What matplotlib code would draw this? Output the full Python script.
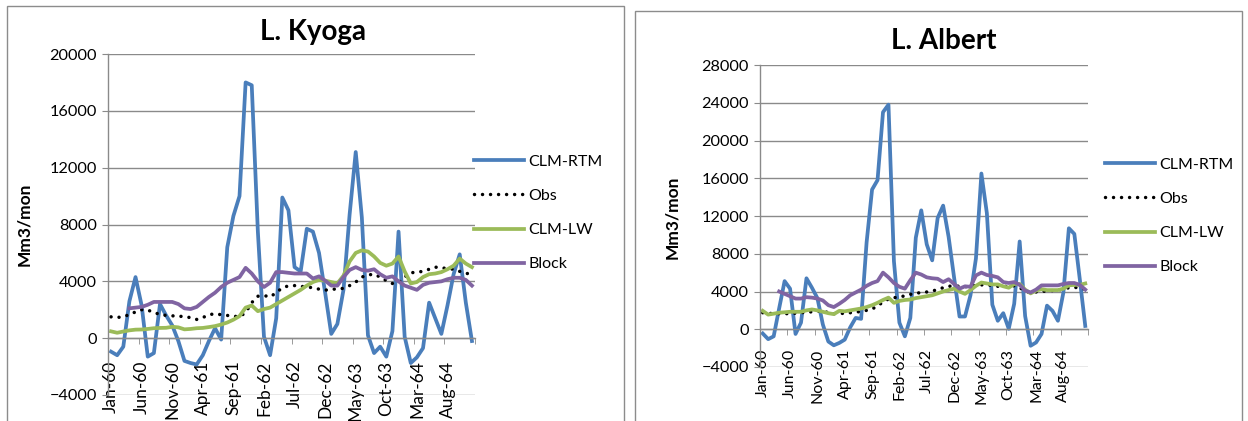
import numpy as np
import matplotlib
matplotlib.use("Agg")
import matplotlib.pyplot as plt
from matplotlib.patches import Rectangle

plt.rcParams['font.family'] = ['Lato', 'DejaVu Sans']

# month labels, Jan-60 .. Dec-64
months = []
_names = ["Jan", "Feb", "Mar", "Apr", "May", "Jun", "Jul", "Aug", "Sep", "Oct", "Nov", "Dec"]
for yr in range(60, 65):
    for mn in _names:
        months.append(f"{mn}-{yr}")

# ---- L. Kyoga ----
kyoga_rtm = [-950, -1200, -600, 2600, 4300, 2300, -1300, -1050, 2400, 1600,
             900, -200, -1600, -1750, -1850, -1200, -200, 700, -100, 6400,
             8600, 10000, 18000, 17800, 7500, 100, -1200, 1400, 9900, 9000,
             5000, 4700, 7700, 7500, 6000, 3200, 300, 1000, 3400, 8700,
             13100, 8500, 200, -1050, -600, -1300, 500, 7500, 100, -1750,
             -1350, -700, 2500, 1400, 300, 2300, 4500, 5900, 2500, -200]
kyoga_obs = [1500, 1450, 1520, 1650, 1850, 2000, 1980, 1800, 1680, 1600,
             1570, 1560, 1500, 1450, 1320, 1450, 1650, 1720, 1650, 1600,
             1550, 1500, 1800, 2500, 2950, 3000, 2900, 3200, 3550, 3680,
             3700, 3650, 3600, 3550, 3450, 3380, 3420, 3480, 3500, 3700,
             3950, 4300, 4450, 4500, 4300, 4050, 3850, 3900, 4300, 4600,
             4650, 4700, 4850, 5000, 4950, 4900, 4850, 4700, 4550, 4550]
kyoga_lw = [480, 380, 470, 550, 600, 610, 650, 700, 720, 730,
            800, 760, 620, 650, 700, 720, 780, 850, 960, 1100,
            1300, 1550, 2150, 2300, 1900, 2050, 2150, 2400, 2650, 2900,
            3150, 3400, 3700, 3950, 4100, 4050, 3950, 3850, 4400, 5400,
            6000, 6180, 6100, 5750, 5300, 5100, 5250, 5750, 4700, 3850,
            3950, 4300, 4500, 4550, 4650, 4850, 5100, 5600, 5250, 5000]
kyoga_block = [np.nan, np.nan, np.nan, 2100, 2150, 2200, 2350, 2550, 2550, 2550,
               2550, 2400, 2100, 2050, 2200, 2550, 2900, 3200, 3600, 3900,
               4100, 4300, 4950, 4550, 4000, 3600, 3900, 4650, 4650, 4600,
               4550, 4550, 4550, 4200, 4350, 4050, 3700, 3700, 4300, 4800,
               5000, 4800, 4750, 4850, 4500, 4250, 4350, 4000, 3700, 3550,
               3400, 3750, 3900, 3950, 4000, 4150, 4250, 4250, 4100, 3700]

# ---- L. Albert ----
albert_rtm = [-450, -1050, -750, 2200, 5100, 4300, -500, 700, 5400, 4400,
              3300, 500, -1300, -1700, -1450, -1100, 200, 1200, 1100, 9200,
              14800, 15800, 23000, 23800, 7200, 700, -750, 1200, 9700, 12600,
              9000, 7300, 11800, 13100, 9800, 5500, 1350, 1350, 3600, 7500,
              16500, 12300, 2600, 900, 1700, 50, 2700, 9300, 1400, -1750,
              -1400, -500, 2500, 1950, 900, 3900, 10700, 10100, 5300, 350]
albert_obs = [1750, 1700, 1650, 1650, 1650, 1650, 1700, 1750, 1800, 1850,
              1900, 1950, 1750, 1650, 1650, 1700, 1750, 1800, 1900, 2000,
              2150, 2450, 2900, 3200, 3350, 3400, 3550, 3700, 3800, 3900,
              3950, 4050, 4200, 4400, 4550, 4600, 4550, 4500, 4550, 4650,
              4700, 4700, 4650, 4550, 4500, 4600, 4600, 4400, 4050, 3850,
              3950, 4000, 4050, 4100, 4150, 4250, 4400, 4450, 4350, 4250]
albert_lw = [1950, 1550, 1650, 1750, 1800, 1850, 1850, 1850, 2000, 2100,
             2000, 1850, 1700, 1600, 1950, 1900, 2000, 2100, 2200, 2350,
             2550, 2800, 3100, 3350, 2800, 3000, 3100, 3150, 3300, 3400,
             3500, 3600, 3800, 4000, 4150, 4300, 4000, 3750, 4150, 4600,
             4950, 4850, 4750, 4750, 4550, 4400, 4800, 4800, 4200, 3800,
             4100, 4250, 4150, 4150, 4150, 4300, 4650, 4700, 4700, 4850]
albert_block = [np.nan, np.nan, np.nan, 4000, 3750, 3500, 3250, 3250, 3400, 3350,
                3250, 3050, 2550, 2350, 2700, 3100, 3600, 3900, 4200, 4600,
                4900, 5100, 6000, 5500, 4900, 4500, 4300, 5200, 6000, 5800,
                5500, 5400, 5350, 5000, 5300, 4800, 4300, 4550, 4500, 5700,
                6000, 5750, 5650, 5500, 5000, 4900, 5000, 4700, 4100, 3900,
                4200, 4650, 4650, 4650, 4650, 4800, 4900, 4900, 4700, 4200]

series_names = ["CLM-RTM", "Obs", "CLM-LW", "Block"]
GRID = "#8a8a8a"
W, H = 1248, 421


def fr(x0, y0, x1, y1):
    # pixel box (top-left origin) -> figure fraction rect
    return [x0 / W, 1 - y1 / H, (x1 - x0) / W, (y1 - y0) / H]


def panel(fig, rect, title, title_xy, data, ymax, ylab_xy, leg_xy, xfs, xpad):
    ax = fig.add_axes(rect)
    rtm, obs, lw, block = data
    x = np.arange(len(months))
    ax.plot(x, rtm, color="#4A7EBB", lw=2.7, label=series_names[0], solid_joinstyle="round")
    ax.plot(x, obs, color="black", lw=2.5, linestyle=(0, (0.01, 2.3)),
            dash_capstyle="round", label=series_names[1])
    ax.plot(x, lw, color="#9BBB59", lw=2.7, label=series_names[2], solid_joinstyle="round")
    ax.plot(x, block, color="#8064A2", lw=2.7, label=series_names[3], solid_joinstyle="round")

    # horizontal axis crosses at 0 (spine move resets ticks, so do it first)
    ax.spines["bottom"].set_position(("data", 0))
    for s in ["top", "right"]:
        ax.spines[s].set_visible(False)
    for s in ["left", "bottom"]:
        ax.spines[s].set_color(GRID)
        ax.spines[s].set_linewidth(1.0)

    ax.set_xlim(-0.5, len(months) - 0.5)
    ax.set_ylim(-4000, ymax)
    ax.set_yticks(np.arange(-4000, ymax + 1, 4000))
    ax.yaxis.grid(True, color=GRID, lw=1.0)
    ax.set_axisbelow(True)
    ax.tick_params(axis="y", labelsize=11.7, length=4, color=GRID, pad=4)

    ax.set_xticks(np.arange(0, len(months), 5))
    ax.set_xticklabels(months[::5])
    ax.set_xticks(np.arange(-0.5, len(months), 5), minor=True)
    ax.tick_params(axis="x", which="major", length=0, pad=xpad,
                   labelrotation=90, labelsize=xfs)
    ax.tick_params(axis="x", which="minor", length=4, color=GRID)

    fig.text(title_xy[0] / W, 1 - title_xy[1] / H, title, fontsize=20,
             fontweight="bold", ha="center", va="center")
    ax.set_ylabel("Mm3/mon", fontsize=12.5, fontweight="bold")
    ax.yaxis.set_label_coords(ylab_xy[0] / W, 1 - ylab_xy[1] / H,
                              transform=fig.transFigure)

    fig.legend(*ax.get_legend_handles_labels(), loc="center left",
               bbox_to_anchor=(leg_xy[0] / W, 1 - leg_xy[1] / H),
               frameon=False, fontsize=11.5, handlelength=3.1,
               handletextpad=0.3, labelspacing=1.25, borderpad=0,
               borderaxespad=0)
    return ax


fig = plt.figure(figsize=(W / 100, H / 100), dpi=100)

# chart frames
fig.patches.append(Rectangle((7 / W, -0.02), 617 / W, 1 - 6 / H + 0.02,
                             transform=fig.transFigure, fill=False,
                             edgecolor="#8c8c8c", lw=1.0))
fig.patches.append(Rectangle((635 / W, -0.02), 607 / W, 1 - 11 / H + 0.02,
                             transform=fig.transFigure, fill=False,
                             edgecolor="#8c8c8c", lw=1.0))

panel(fig, fr(108, 54, 475, 395), "L. Kyoga", (313, 32),
      (kyoga_rtm, kyoga_obs, kyoga_lw, kyoga_block), 20000, (32, 224), (474, 213),
      12.5, 16)
panel(fig, fr(760, 65, 1088, 367), "L. Albert", (944, 41),
      (albert_rtm, albert_obs, albert_lw, albert_block), 28000, (680, 217), (1105, 216),
      11.5, 14)

fig.savefig("out.png", dpi=100)
